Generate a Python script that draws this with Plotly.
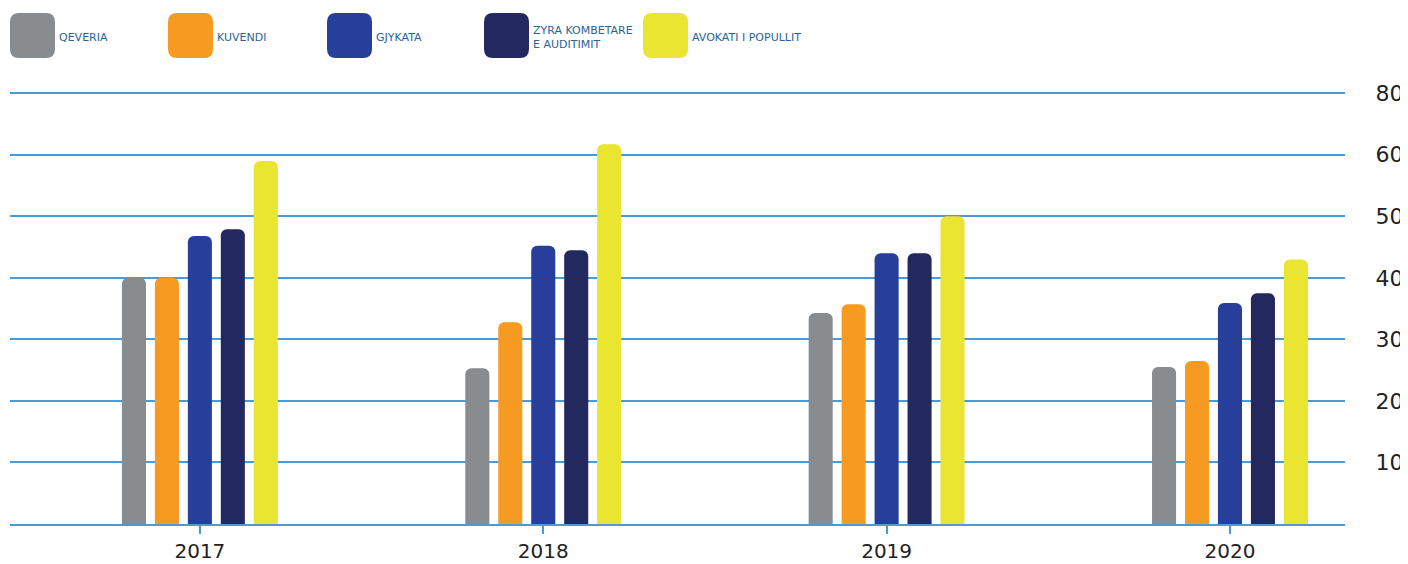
import plotly.graph_objects as go

years = ['2017', '2018', '2019', '2020']
series_names = ['QEVERIA', 'KUVENDI', 'GJYKATA', 'ZYRA KOMBETARE<br>E AUDITIMIT', 'AVOKATI I POPULLIT']
qeveria = [40, 25.3, 34.3, 25.5]
kuvendi = [40, 32.8, 35.7, 26.5]
gjykata = [46.8, 45.2, 44, 35.9]
zka = [47.9, 44.5, 44, 37.5]
avokati = [59, 61.7, 50, 43]
y_tickvals = [0, 10, 20, 30, 40, 50, 60, 70]
y_ticktext = ['', '10', '20', '30', '40', '50', '60', '80']

colors = ['#888c8e', '#f79a21', '#273f9a', '#23285f', '#e9e531']
values = [qeveria, kuvendi, gjykata, zka, avokati]

fig = go.Figure()
for name, vals, col in zip(series_names, values, colors):
    fig.add_trace(go.Bar(x=years, y=vals, name=name, marker=dict(color=col, line=dict(width=0), cornerradius=6)))


def rounded_rect(x0, y0, x1, y1, r):
    return (f"M {x0+r},{y0} L {x1-r},{y0} Q {x1},{y0} {x1},{y0+r} "
            f"L {x1},{y1-r} Q {x1},{y1} {x1-r},{y1} L {x0+r},{y1} "
            f"Q {x0},{y1} {x0},{y1-r} L {x0},{y0+r} Q {x0},{y0} {x0+r},{y0} Z")


# legend: rounded squares + labels drawn by hand (pixel offsets from plot top-left)
legend_x = [0, 158, 317, 474, 633]
shapes = []
annotations = []
for lx, name, col in zip(legend_x, series_names, colors):
    shapes.append(dict(type='path', xref='paper', yref='paper', xsizemode='pixel', ysizemode='pixel',
                       xanchor=0, yanchor=1, path=rounded_rect(lx, 34, lx + 45, 79, 9),
                       fillcolor=col, line=dict(width=0)))
    annotations.append(dict(x=0, y=1, xref='paper', yref='paper', xanchor='left', yanchor='middle',
                            xshift=lx + 47, yshift=55, text=name, showarrow=False, align='left',
                            font=dict(family='DejaVu Sans', size=11, color='#2a6496')))

# page body adds an 8px margin, so the figure is sized to fit inside it
fig.update_layout(
    width=1400, height=556,
    margin=dict(l=2, r=63, t=84, b=40),
    plot_bgcolor='white', paper_bgcolor='white',
    barmode='group', bargap=0.52, bargroupgap=0.27,
    showlegend=False,
    shapes=shapes, annotations=annotations,
    xaxis=dict(type='category', range=[-0.553, 3.335], showgrid=False, automargin=False,
               showline=True, linecolor='#4a9ad6', linewidth=2,
               ticks='outside', ticklen=8, tickwidth=2, tickcolor='#4a9ad6',
               tickfont=dict(family='DejaVu Sans', size=20, color='#222222')),
    yaxis=dict(side='right', range=[0, 70.2], tickvals=y_tickvals, ticktext=y_ticktext,
               showgrid=True, gridcolor='#4a9ad6', gridwidth=2, zeroline=False,
               ticks='outside', ticklen=25, tickcolor='rgba(0,0,0,0)',
               ticklabeloverflow='allow', automargin=False,
               tickfont=dict(family='DejaVu Sans', size=22, color='#222222')),
)

fig.write_html('out.html')
